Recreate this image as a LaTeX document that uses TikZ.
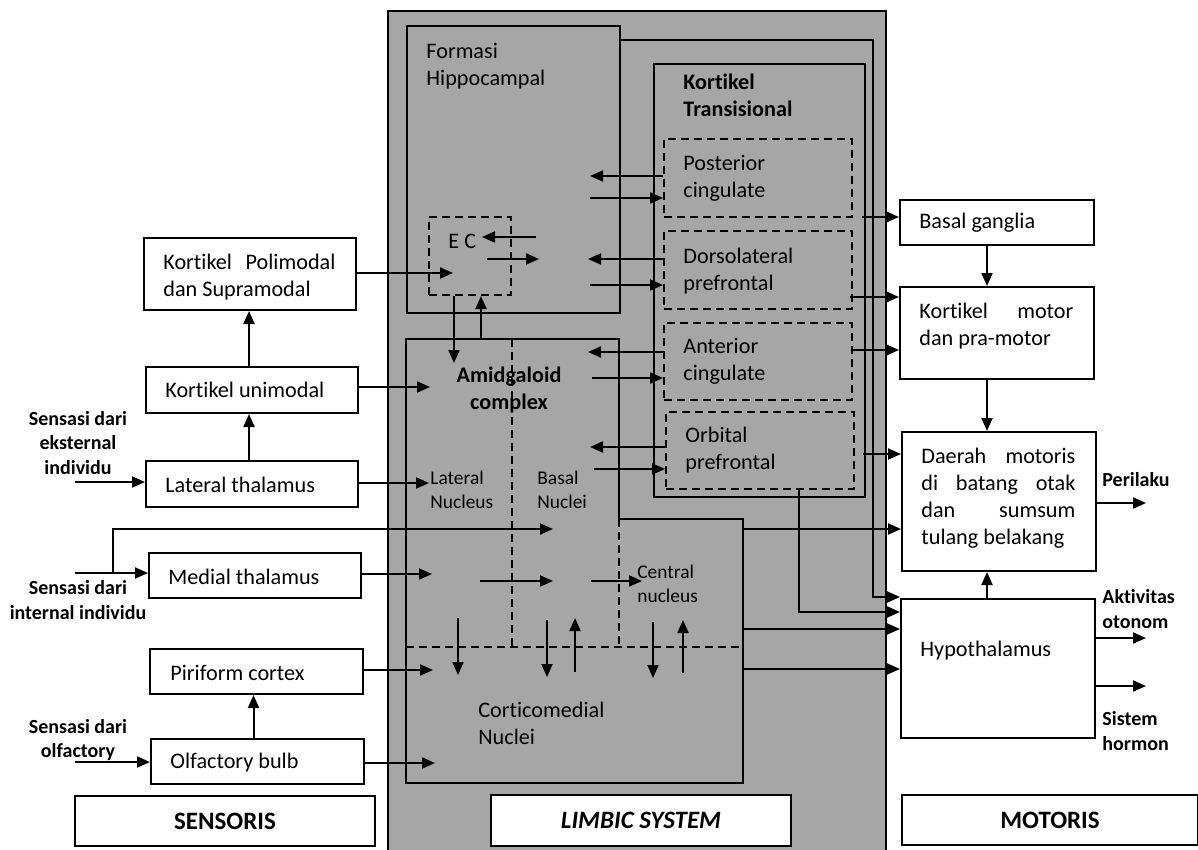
\documentclass[tikz,border=0pt]{standalone}
\usepackage{fontspec}
\setmainfont{Carlito}[Ligatures=NoCommon]
\usetikzlibrary{arrows.meta,calc}
\definecolor{limgray}{HTML}{A6A6A6}
\newcommand{\mainsz}{\fontsize{11.1}{13.6}\selectfont}
\newcommand{\smallsz}{\fontsize{9.7}{12}\selectfont}
\newcommand{\labsz}{\fontsize{10}{12.2}\selectfont\bfseries}
\newcommand{\titsz}{\fontsize{12.5}{14}\selectfont\bfseries}
\tikzset{
  wbox/.style={draw, fill=white, line width=1pt, anchor=north west, inner sep=0},
  gbox/.style={draw, line width=1pt, anchor=north west, inner sep=0},
  dbox/.style={gbox, dash pattern=on 4pt off 2.5pt},
  arr/.style={line width=1pt, -{Triangle[length=6.5pt,width=5.5pt]}},
  ln/.style={line width=1pt},
  dln/.style={line width=1pt, dash pattern=on 4pt off 2.5pt},
  txt/.style={anchor=west, inner sep=0, align=left, font=\mainsz},
  stxt/.style={anchor=west, inner sep=0, align=left, font=\smallsz},
  lab/.style={inner sep=0, align=center, font=\labsz},
  labl/.style={anchor=west, inner sep=0, align=left, font=\labsz},
}
\begin{document}
\begin{tikzpicture}[x=0.5pt,y=-0.5pt]
\useasboundingbox (0,0) rectangle (1198,850);
\clip (0,0) rectangle (1198,850);
% limbic background
\node[draw, fill=limgray, line width=1pt, anchor=north west, inner sep=0, minimum width=249pt, minimum height=440pt] (ls) at (387,10) {};
% limbic inner boxes
\node[gbox, minimum width=106.5pt, minimum height=143.5pt] (hip) at (406,25) {};
\node[dbox, minimum width=41pt, minimum height=39pt] (ec) at (428,216) {};
\node[gbox, minimum width=105.5pt, minimum height=216.5pt] (kt) at (653,63) {};
\node[dbox, minimum width=94pt, minimum height=39pt] (pcg) at (663,138) {};
\node[dbox, minimum width=94pt, minimum height=39pt] (dlp) at (663,230) {};
\node[dbox, minimum width=94pt, minimum height=38.5pt] (acg) at (663,322) {};
\node[dbox, minimum width=94pt, minimum height=38.5pt] (orb) at (665,411) {};
% amygdala outline
\draw[ln] (406,339) -- (619,339) -- (619,519) -- (743,519) -- (743,783) -- (406,783) -- cycle;
\draw[dln] (512,339) -- (512,647);
\draw[dln] (619,519) -- (619,647);
\draw[dln] (406,647) -- (743,647);
\node[wbox, minimum width=150pt, minimum height=25.5pt, font=\titsz\itshape] (lsl) at (490,794) {LIMBIC SYSTEM};
% left boxes
\node[wbox, minimum width=106pt, minimum height=36pt] (kp) at (143,237) {};
\node[wbox, minimum width=106pt, minimum height=23pt] (ku) at (145,366) {};
\node[wbox, minimum width=106pt, minimum height=23pt] (lt) at (145,460) {};
\node[wbox, minimum width=106pt, minimum height=22.5pt] (mt) at (148,552) {};
\node[wbox, minimum width=106.5pt, minimum height=22.5pt] (pc) at (149,648) {};
\node[wbox, minimum width=106.5pt, minimum height=22.5pt] (ob) at (150,738) {};
\node[wbox, minimum width=150pt, minimum height=25pt, font=\titsz] (sens) at (74,795) {SENSORIS};
% right boxes
\node[wbox, minimum width=97pt, minimum height=22.5pt] (bg) at (899,199) {};
\node[wbox, minimum width=97pt, minimum height=46pt] (km) at (899,286) {};
\node[wbox, minimum width=97pt, minimum height=69.5pt] (dm) at (901,431) {};
\node[wbox, minimum width=97pt, minimum height=69.5pt] (hy) at (900,598) {};
\node[wbox, minimum width=148pt, minimum height=25pt, font=\titsz] (mot) at (901,794) {MOTORIS};
% texts left
\node[txt] (kpt) at (163,277) {\hbox to 86pt{Kortikel\hfill Polimodal}\\dan Supramodal};
\node[txt] (kut) at (165,390) {Kortikel unimodal};
\node[txt] (ltt) at (165,485) {Lateral thalamus};
\node[txt] (mtt) at (168,577) {Medial thalamus};
\node[txt] (pct) at (170,673) {Piriform cortex};
\node[txt] (obt) at (170,763) {Olfactory bulb};
\node[lab] (l1) at (78,443) {Sensasi dari\\eksternal\\individu};
\node[lab] (l2) at (78,600) {Sensasi dari\\internal individu};
\node[lab] (l3) at (78,740) {Sensasi dari\\olfactory};
% texts limbic
\node[txt] (hipt) at (426,66) {Formasi\\Hippocampal};
\node[txt, font=\mainsz\bfseries] (ktt) at (683,95) {Kortikel\\Transisional};
\node[txt] (ect) at (448,241) {E C};
\node[txt] (pcgt) at (683,178) {Posterior\\cingulate};
\node[txt] (dlpt) at (683,271) {Dorsolateral\\prefrontal};
\node[txt] (acgt) at (683,361) {Anterior\\cingulate};
\node[txt] (orbt) at (685,450) {Orbital\\prefrontal};
\node[inner sep=0, align=center, font=\mainsz\bfseries] (amt) at (509,390) {Amidgaloid\\complex};
\node[stxt] (lnt) at (430,490) {Lateral\\Nucleus};
\node[stxt] (bnt) at (537,490) {Basal\\Nuclei};
\node[stxt] (cnt) at (637,584) {Central\\nucleus};
\node[txt] (cmt) at (478,723) {Corticomedial\\Nuclei};
% texts right
\node[txt] (bgt) at (919,223) {Basal ganglia};
\node[txt] (kmt) at (919,326) {\hbox to 77pt{Kortikel\hfill motor}\\dan pra-motor};
\node[txt] (dmt) at (921,498) {\hbox to 77pt{Daerah\hfill motoris}\\\hbox to 77pt{di\hfill batang\hfill otak}\\\hbox to 77pt{dan\hfill sumsum}\\tulang belakang};
\node[txt] (hyt) at (920,651) {Hypothalamus};
\node[labl] (pel) at (1102,480) {Perilaku};
\node[labl] (akl) at (1102,609) {Aktivitas\\otonom};
\node[labl] (shl) at (1102,731) {Sistem\\hormon};
% coordinates
\coordinate (cx) at (987,0);
\coordinate (se) at (75,482);
\coordinate (si) at (75,573);
\coordinate (br) at (113,573);
\coordinate (bs) at (553,529);
\coordinate (so) at (75,762);
\coordinate (ecin) at (453,273);
\coordinate (am1) at (430,387);
\coordinate (am2) at (429,483);
\coordinate (am3) at (432,574);
\coordinate (am4) at (433,670);
\coordinate (am5) at (435,763);
% left side arrows
\draw[arr] ([xshift=-1.5pt]ku.north) -- ([xshift=-1.5pt]ku.north |- kp.south);
\draw[arr] ([xshift=-1.5pt]lt.north) -- ([xshift=-1.5pt]lt.north |- ku.south);
\draw[arr] ([xshift=-2pt]ob.north) -- ([xshift=-2pt]ob.north |- pc.south);
\draw[arr] (se) -- (se -| lt.west);
\draw[arr] (si) -- (si -| mt.west);
\draw[arr] (br) |- (bs);
\draw[arr] (so) -- (so -| ob.west);
\draw[arr] (kp.east |- ecin) -- (ecin);
\draw[arr] (ku.east |- am1) -- (am1);
\draw[arr] (lt.east |- am2) -- (am2);
\draw[arr] (mt.east |- am3) -- (am3);
\draw[arr] (pc.east |- am4) -- (am4);
\draw[arr] (ob.east |- am5) -- (am5);
% EC arrows
\coordinate (ea1) at (536,237); \coordinate (ea2) at (482,237);
\coordinate (ea3) at (487,259); \coordinate (ea4) at (539,259);
\draw[arr] (ea1) -- (ea2);
\draw[arr] (ea3) -- (ea4);
\coordinate (ed) at (454,363); \coordinate (eu) at (481,339);
\draw[arr] (ec.south -| ed) -- (ed);
\draw[arr] (eu) -- (ec.south -| eu);
% transitional cortex arrows
\coordinate (p1) at (590,176); \coordinate (p2) at (590,198);
\draw[arr] (pcg.west |- p1) -- (p1);
\draw[arr] (p2) -- (pcg.west |- p2);
\coordinate (d1) at (588,259); \coordinate (d2) at (590,285);
\draw[arr] (dlp.west |- d1) -- (d1);
\draw[arr] (d2) -- (dlp.west |- d2);
\coordinate (a1) at (588,352); \coordinate (a2) at (592,378);
\draw[arr] (acg.west |- a1) -- (a1);
\draw[arr] (a2) -- (acg.west |- a2);
\coordinate (r1) at (590,447); \coordinate (r2) at (594,469);
\draw[arr] (orb.west |- r1) -- (r1);
\draw[arr] (r2) -- (orb.west |- r2);
% amygdala internal arrows
\draw[arr] (480,581) -- (553,581);
\draw[arr] (591,581) -- (642,581);
\draw[arr] (458,618) -- (458,675);
\draw[arr] (547,620) -- (547,677);
\draw[arr] (575,672) -- (575,618);
\draw[arr] (653,622) -- (653,678);
\draw[arr] (683,673) -- (683,620);
% outputs to motor side
\coordinate (o1) at (862,217);
\coordinate (o2) at (850,297);
\coordinate (o3) at (851,350);
\coordinate (o4) at (863,454);
\coordinate (o5) at (743,529);
\draw[arr] (o1) -- (o1 -| bg.west);
\draw[arr] (o2) -- (o2 -| km.west);
\draw[arr] (o3) -- (o3 -| km.west);
\draw[arr] (o4) -- (o4 -| dm.west);
\draw[arr] (o5) -- (o5 -| dm.west);
\coordinate (h1) at (619,40);
\coordinate (h2) at (873,597);
\draw[arr] (h1) -| (h2) -- (h2 -| hy.west);
\coordinate (o6) at (799,488);
\coordinate (y612) at (0,612);
\draw[arr] (o6) |- (hy.west |- y612);
\coordinate (o7) at (743,629);
\coordinate (o8) at (743,669);
\draw[arr] (o7) -- (o7 -| hy.west);
\draw[arr] (o8) -- (o8 -| hy.west);
% motor chain
\draw[arr] (bg.south -| cx) -- (km.north -| cx);
\draw[arr] (km.south -| cx) -- (dm.north -| cx);
\draw[arr] (hy.north -| cx) -- (dm.south -| cx);
\coordinate (pe) at (1146,503);
\coordinate (ak) at (1146,638);
\coordinate (sh) at (1146,686);
\draw[arr] (pe -| dm.east) -- (pe);
\draw[arr] (ak -| hy.east) -- (ak);
\draw[arr] (sh -| hy.east) -- (sh);
\end{tikzpicture}
\end{document}
